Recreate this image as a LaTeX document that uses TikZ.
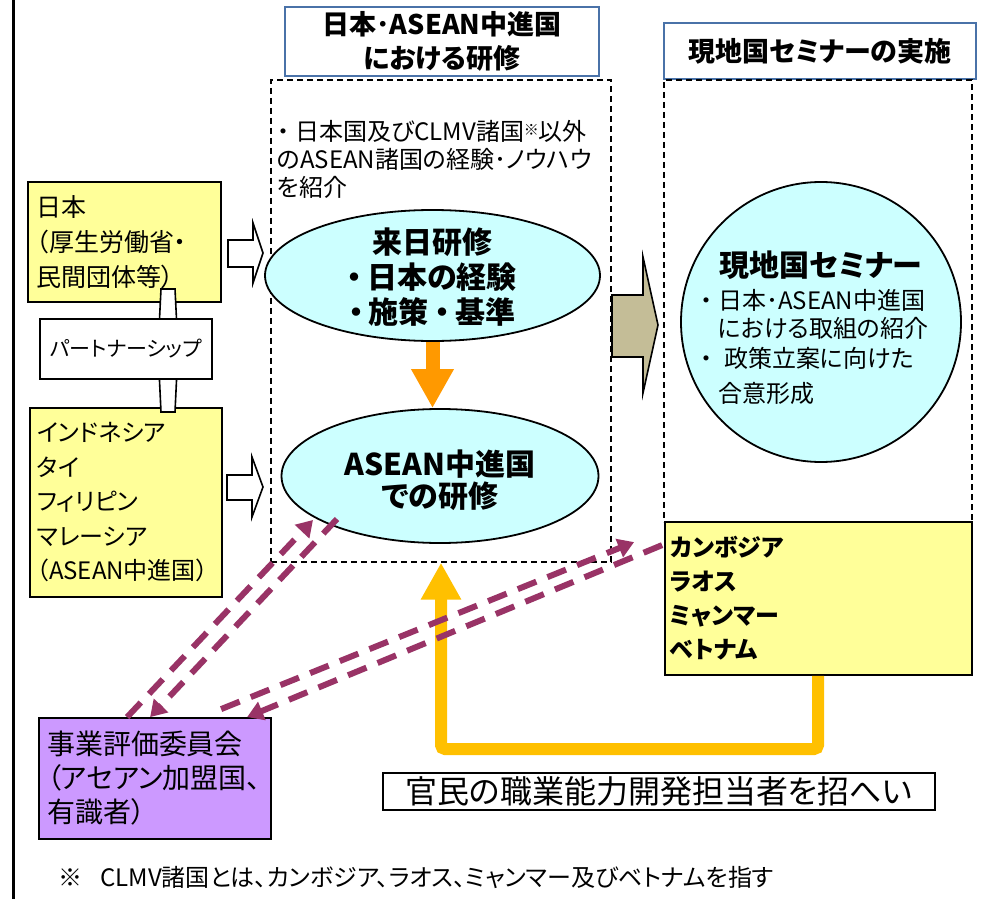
\documentclass[tikz,border=0pt]{standalone}
\usepackage{fontspec}
\setmainfont{Noto Sans CJK JP}[RawFeature=+palt]
\usetikzlibrary{arrows.meta,calc,shapes.geometric}
\definecolor{boxyellow}{HTML}{FFFF99}
\definecolor{ellcyan}{HTML}{CCFFFF}
\definecolor{boxpurple}{HTML}{CC99FF}
\definecolor{khaki}{HTML}{C4BD97}
\definecolor{arrorange}{HTML}{FF9900}
\definecolor{arrgold}{HTML}{FFC000}
\definecolor{maroonline}{HTML}{993366}
\definecolor{titleblue}{HTML}{4A72A8}
\newcommand\fsz[2]{\fontsize{#1pt}{#2pt}\selectfont}
\begin{document}
\begin{tikzpicture}[x=1pt,y=-1pt,
  solidbox/.style={draw, line width=1.8pt, rectangle, inner sep=0pt},
  yellowbox/.style={solidbox, fill=boxyellow, align=left},
  titlebox/.style={draw=titleblue, line width=1.8pt, rectangle, inner sep=0pt, fill=white, align=center, font=\bfseries\fsz{27}{34}},
  dashbox/.style={draw, line width=1.4pt, dash pattern=on 6pt off 4pt, rectangle, inner sep=0pt},
  txt/.style={inner sep=0pt, align=left},
  ctxt/.style={inner sep=0pt, align=center},
  blockarrow/.style={draw, line width=1.6pt, line join=miter},
  pline/.style={draw=maroonline, line width=6pt, dash pattern=on 20pt off 12pt, -{Triangle[width=19pt,length=16pt]}},
]
\useasboundingbox (0,0) rectangle (994,899);
\fill[white] (0,0) rectangle (994,899);

% left border line
\draw[line width=3pt] (13,0) -- (13,899);

% title boxes
\node[titlebox, minimum width=314pt, minimum height=69pt] (title1) at (442,41.5) {日本･ASEAN中進国\\における研修};
\node[titlebox, minimum width=312pt, minimum height=56pt] (title2) at (820,51) {現地国セミナーの実施};

% dashed frames
\node[dashbox, minimum width=340pt, minimum height=482pt] (frame1) at (441,321) {};
\node[dashbox, minimum width=308pt, minimum height=442pt] (frame2) at (818,301) {};

% text in frame 1
\node[txt, anchor=west, font=\fsz{24}{28}] (intro) at (277,159)
  {・\hspace{6pt}日本国及びCLMV諸国\raisebox{5pt}{\fsz{15}{15}※}以外\\のASEAN諸国の経験･ノウハウ\\を紹介};

% left boxes
\node[yellowbox, minimum width=193pt, minimum height=120pt, text width=176pt, font=\fsz{25}{35}] (japan) at (124.5,242)
  {日本\\（厚生労働省・\\民間団体等）};
\node[yellowbox, minimum width=192pt, minimum height=189pt, text width=178pt, font=\fsz{24}{34.5}] (asean5) at (126,502.5)
  {インドネシア\\タイ\\フィリピン\\マレーシア\\（ASEAN中進国）};

% partnership double arrow
\draw[blockarrow, fill=white] (161,289) -- (175,289) -- (178,349) -- (175,412) -- (161,412) -- (158,349) -- cycle;
\node[solidbox, fill=white, minimum width=172pt, minimum height=60pt, font=\fsz{21}{21}] (partner) at (126,349) {パートナーシップ};

% white block arrows
\draw[blockarrow, fill=white] (228,240) -- (253,240) -- (253,223) -- (263,253) -- (253,283) -- (253,267) -- (228,267) -- cycle;
\draw[blockarrow, fill=white] (227,475) -- (252,475) -- (252,457) -- (263,487) -- (252,517) -- (252,500) -- (227,500) -- cycle;

% ellipses
\node[ellipse, draw, line width=1.8pt, fill=ellcyan, minimum width=335pt, minimum height=131pt, inner sep=0pt] (rainichi) at (432.5,275.5) {};
\node[ctxt, font=\bfseries\fsz{30}{35}] (rainichitxt) at (432,277) {来日研修\\・\hspace{5pt}日本の経験\\・\hspace{5pt}施策 ・\hspace{5pt}基準};
\node[ellipse, draw, line width=1.8pt, fill=ellcyan, minimum width=317pt, minimum height=134pt, inner sep=0pt] (aseanell) at (440,476) {};
\node[ctxt, font=\bfseries\fsz{30}{32}] (aseanelltxt) at (440,480) {ASEAN中進国\\での研修};

% orange arrow
\draw[arrorange, line width=14pt, -{Triangle[width=40pt,length=39pt]}] (rainichi.south) -- (rainichi.south |- aseanell.north);

% khaki block arrow
\draw[blockarrow, fill=khaki] (612,295) -- (643,295) -- (643,257) -- (658,325) -- (643,393) -- (643,357) -- (612,357) -- cycle;

% seminar circle
\node[circle, draw, line width=1.8pt, fill=ellcyan, minimum size=280pt, inner sep=0pt] (seminar) at (821,322) {};
\node[ctxt, font=\bfseries\fsz{30}{30}] (seminartitle) at (821,265) {現地国セミナー};
\node[txt, anchor=west, font=\fsz{24}{24}] (sem1) at (700,300) {・\hspace{6pt}日本･ASEAN中進国};
\node[txt, anchor=west, font=\fsz{24}{24}] (sem2) at (718,328) {における取組の紹介};
\node[txt, anchor=west, font=\fsz{24}{24}] (sem3) at (700,358) {・\hspace{12pt}政策立案に向けた};
\node[txt, anchor=west, font=\fsz{24}{24}] (sem4) at (718,393) {合意形成};

% CLMV box
\node[yellowbox, minimum width=307pt, minimum height=153pt, text width=297pt, font=\bfseries\fsz{24}{34}] (clmv) at (818.5,598.5)
  {カンボジア\\ラオス\\ミャンマー\\ベトナム};

% committee box
\node[solidbox, fill=boxpurple, align=left, minimum width=232pt, minimum height=121pt, text width=216pt, font=\fsz{28}{34}] (committee) at (155,778.5)
  {事業評価委員会\\（アセアン加盟国、\\有識者）};

% gold U arrow
\coordinate (ucornerR) at (818,749);
\coordinate (ucornerL) at (441,749);
\draw[arrgold, line width=12pt, rounded corners=4pt, -{Triangle[width=38pt,length=37pt]}]
  (clmv.south -| ucornerR) -- (ucornerR) -- (ucornerL) -- (frame1.south -| ucornerL);

% purple dashed connectors
\draw[pline] ($(committee.north west)+(89,0)$) -- ($(aseanell.center)+(-127,44)$);
\draw[pline] ($(aseanell.center)+(-103,43)$) -- ($(committee.north west)+(112,0)$);
\draw[pline] ($(committee.north west)+(183,-8)$) -- ($(clmv.north west)+(-30,21)$);
\draw[pline] ($(clmv.north west)+(-2,24)$) -- ($(committee.north west)+(209,0)$);

% invitation box
\node[solidbox, minimum width=552pt, minimum height=37pt, font=\fsz{32}{32}] (invite) at (659,791.5) {官民の職業能力開発担当者を招へい};

% footnote
\node[txt, anchor=west, font=\fsz{24}{24}] (footnote) at (58,877) {※\hspace{18pt}CLMV諸国とは、カンボジア、ラオス、ミャンマー及びベトナムを指す};
\end{tikzpicture}
\end{document}
